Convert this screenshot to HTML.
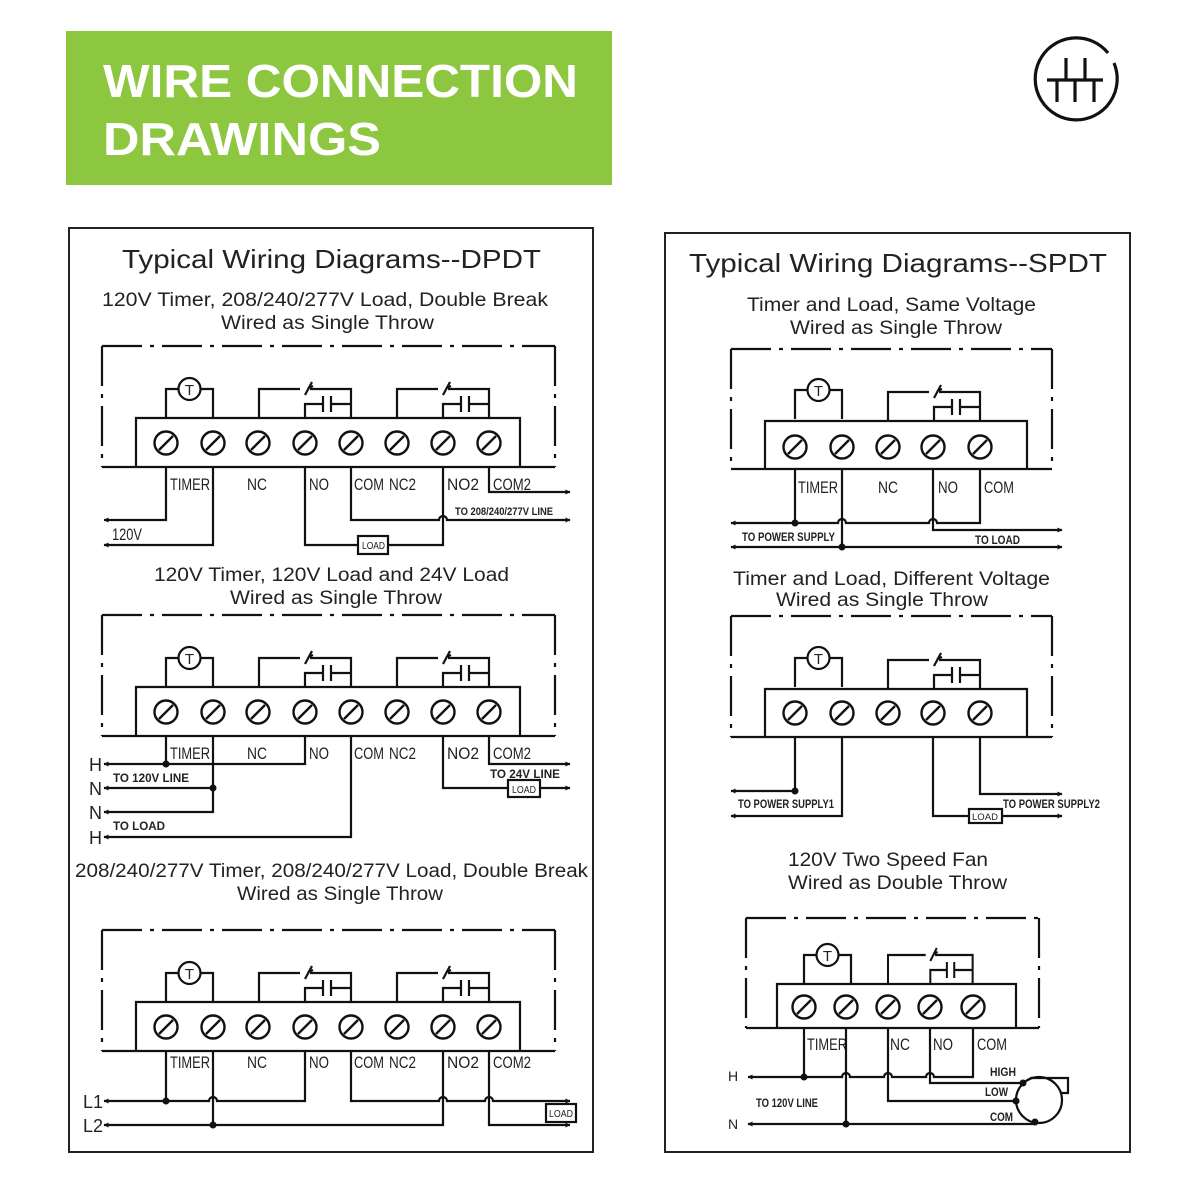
<!DOCTYPE html>
<html><head><meta charset="utf-8"><style>
html,body{margin:0;padding:0;background:#fff}
svg{display:block}
text{font-family:"Liberation Sans",Arial,sans-serif;fill:#222}
.t{font-size:26px}.s{font-size:19px}
.l{font-size:17px}
.b{font-size:11px;font-weight:bold}
.tt{font-size:15px;text-anchor:middle}
</style></head><body>
<svg width="1200" height="1200" viewBox="0 0 1200 1200" xmlns="http://www.w3.org/2000/svg">
<defs>
<marker id="ar" viewBox="0 0 10 10" refX="9" refY="5" markerWidth="6" markerHeight="5" orient="auto-start-reverse" markerUnits="userSpaceOnUse"><path d="M0 0 L10 5 L0 10 z" fill="#111"/></marker>
<g id="tm"><circle r="11.5" fill="#fff" stroke="#111" stroke-width="2.4"/><line x1="-7" y1="7" x2="7" y2="-7" stroke="#111" stroke-width="2.4"/></g>
<g id="cnt" fill="none" stroke="#111" stroke-width="2.2">
 <path d="M0 0 V-29 H41 M51 -29 H92 V0 M46 -23 L53 -36 M49 -30 L54 -32 M46 0 V-14 H64 M72 -14 H92 M64 -22 V-6 M72 -22 V-6"/>
</g>
<g id="tim" fill="none" stroke="#111" stroke-width="2.2">
 <path d="M0 -2 V-31 H12 M35 -31 H47 V-2"/>
 <circle cx="23.5" cy="-31" r="11" fill="#fff"/>
</g>
<g id="dp" fill="none" stroke="#111" stroke-width="2.2">
 <path d="M102 346 H555" stroke-dasharray="40 8 4 8"/>
 <path d="M102 346 V467 M555 346 V467" stroke-dasharray="40 8 4 8"/>
 <path d="M102 467 H555 M136 467 V418 H520 V467"/>
 <use href="#tim" x="166" y="420"/>
 <use href="#cnt" x="259" y="418"/>
 <use href="#cnt" x="397" y="418"/>
 <use href="#tm" x="166" y="443"/><use href="#tm" x="213" y="443"/><use href="#tm" x="258" y="443"/><use href="#tm" x="305" y="443"/><use href="#tm" x="351" y="443"/><use href="#tm" x="397" y="443"/><use href="#tm" x="443" y="443"/><use href="#tm" x="489" y="443"/>
</g>
</defs>

<rect x="66" y="31" width="546" height="154" fill="#8dc63f"/>
<text x="103" y="97" style="font-size:46px;font-weight:bold;fill:#fff" textLength="475" lengthAdjust="spacingAndGlyphs">WIRE CONNECTION</text>
<text x="103" y="155" style="font-size:46px;font-weight:bold;fill:#fff" textLength="278" lengthAdjust="spacingAndGlyphs">DRAWINGS</text>

<g fill="none" stroke="#111" stroke-width="3.2">
 <path d="M1108 53 A41 41 0 1 0 1114 63"/>
 <path d="M1047 80 H1103 M1066 58 V80 M1085 58 V80 M1057 80 V102 M1075 80 V102 M1094 80 V102"/>
</g>

<rect x="69" y="228" width="524" height="924" fill="none" stroke="#222" stroke-width="2"/>
<rect x="665" y="233" width="465" height="919" fill="none" stroke="#222" stroke-width="2"/>

<text class="t" x="122" y="268" textLength="419" lengthAdjust="spacingAndGlyphs">Typical Wiring Diagrams--DPDT</text>
<text class="s" x="102" y="306" textLength="446" lengthAdjust="spacingAndGlyphs">120V Timer, 208/240/277V Load, Double Break</text>
<text class="s" x="221" y="329" textLength="213" lengthAdjust="spacingAndGlyphs">Wired as Single Throw</text>
<text class="s" x="154" y="581" textLength="355" lengthAdjust="spacingAndGlyphs">120V Timer, 120V Load and 24V Load</text>
<text class="s" x="230" y="604" textLength="212" lengthAdjust="spacingAndGlyphs">Wired as Single Throw</text>
<text class="s" x="75" y="877" textLength="513" lengthAdjust="spacingAndGlyphs">208/240/277V Timer, 208/240/277V Load, Double Break</text>
<text class="s" x="237" y="900" textLength="206" lengthAdjust="spacingAndGlyphs">Wired as Single Throw</text>

<text class="t" x="689" y="272" textLength="418" lengthAdjust="spacingAndGlyphs">Typical Wiring Diagrams--SPDT</text>
<text class="s" x="747" y="311" textLength="289" lengthAdjust="spacingAndGlyphs">Timer and Load, Same Voltage</text>
<text class="s" x="790" y="334" textLength="212" lengthAdjust="spacingAndGlyphs">Wired as Single Throw</text>
<text class="s" x="733" y="585" textLength="317" lengthAdjust="spacingAndGlyphs">Timer and Load, Different Voltage</text>
<text class="s" x="776" y="606" textLength="212" lengthAdjust="spacingAndGlyphs">Wired as Single Throw</text>
<text class="s" x="788" y="866" textLength="200" lengthAdjust="spacingAndGlyphs">120V Two Speed Fan</text>
<text class="s" x="788" y="889" textLength="219" lengthAdjust="spacingAndGlyphs">Wired as Double Throw</text>

<use href="#dp"/>
<use href="#dp" y="269"/>
<use href="#dp" y="584"/>

<text class="tt" x="189.5" y="395">T</text>
<text class="tt" x="189.5" y="664">T</text>
<text class="tt" x="189.5" y="979">T</text>
<text class="tt" x="818.5" y="396">T</text>
<text class="tt" x="818.5" y="664">T</text>
<text class="tt" x="827.5" y="961">T</text>

<g>
<text class="l" x="170" y="490" textLength="40" lengthAdjust="spacingAndGlyphs">TIMER</text>
<text class="l" x="247" y="490" textLength="20" lengthAdjust="spacingAndGlyphs">NC</text>
<text class="l" x="309" y="490" textLength="20" lengthAdjust="spacingAndGlyphs">NO</text>
<text class="l" x="354" y="490" textLength="30" lengthAdjust="spacingAndGlyphs">COM</text>
<text class="l" x="389" y="490" textLength="27" lengthAdjust="spacingAndGlyphs">NC2</text>
<text class="l" x="447" y="490" textLength="32" lengthAdjust="spacingAndGlyphs">NO2</text>
<text class="l" x="493" y="490" textLength="38" lengthAdjust="spacingAndGlyphs">COM2</text>

<text class="l" x="170" y="759" textLength="40" lengthAdjust="spacingAndGlyphs">TIMER</text>
<text class="l" x="247" y="759" textLength="20" lengthAdjust="spacingAndGlyphs">NC</text>
<text class="l" x="309" y="759" textLength="20" lengthAdjust="spacingAndGlyphs">NO</text>
<text class="l" x="354" y="759" textLength="30" lengthAdjust="spacingAndGlyphs">COM</text>
<text class="l" x="389" y="759" textLength="27" lengthAdjust="spacingAndGlyphs">NC2</text>
<text class="l" x="447" y="759" textLength="32" lengthAdjust="spacingAndGlyphs">NO2</text>
<text class="l" x="493" y="759" textLength="38" lengthAdjust="spacingAndGlyphs">COM2</text>

<text class="l" x="170" y="1068" textLength="40" lengthAdjust="spacingAndGlyphs">TIMER</text>
<text class="l" x="247" y="1068" textLength="20" lengthAdjust="spacingAndGlyphs">NC</text>
<text class="l" x="309" y="1068" textLength="20" lengthAdjust="spacingAndGlyphs">NO</text>
<text class="l" x="354" y="1068" textLength="30" lengthAdjust="spacingAndGlyphs">COM</text>
<text class="l" x="389" y="1068" textLength="27" lengthAdjust="spacingAndGlyphs">NC2</text>
<text class="l" x="447" y="1068" textLength="32" lengthAdjust="spacingAndGlyphs">NO2</text>
<text class="l" x="493" y="1068" textLength="38" lengthAdjust="spacingAndGlyphs">COM2</text>
</g>

<g fill="none" stroke="#111" stroke-width="2.2">
 <path d="M166 467 V520 H104" marker-end="url(#ar)"/>
 <path d="M213 467 V545 H104" marker-end="url(#ar)"/>
 <path d="M305 467 V545 H358 M388 545 H443 V467"/>
 <rect x="358" y="536" width="30" height="18" fill="#fff"/>
 <path d="M351 467 V520 H439 A4 4 0 0 1 447 520 H570" marker-end="url(#ar)"/>
 <path d="M489 467 V492 H570" marker-end="url(#ar)"/>
 <path d="M305 736 V764 H104" marker-end="url(#ar)"/>
 <path d="M166 736 V764"/>
 <path d="M213 736 V812 H104" marker-end="url(#ar)"/>
 <path d="M213 788 H104" marker-end="url(#ar)"/>
 <path d="M351 736 V837 H104" marker-end="url(#ar)"/>
 <path d="M489 736 V764 H570" marker-end="url(#ar)"/>
 <path d="M443 736 V788 H508 M540 788 H570" marker-end="url(#ar)"/>
 <rect x="508" y="780" width="32" height="17" fill="#fff"/>
 <path d="M305 1051 V1101 H217 A4 4 0 0 0 209 1101 H104" marker-end="url(#ar)"/>
 <path d="M166 1051 V1101"/>
 <path d="M351 1051 V1101 H439 A4 4 0 0 1 447 1101 H485 A4 4 0 0 1 493 1101 H570" marker-end="url(#ar)"/>
 <path d="M443 1051 V1125 H104" marker-end="url(#ar)"/>
 <path d="M213 1051 V1125"/>
 <path d="M489 1051 V1125 H570" marker-end="url(#ar)"/>
 <rect x="546" y="1104" width="30" height="18" fill="#fff"/>
</g>
<g fill="#111">
 <circle cx="166" cy="764" r="3.5"/><circle cx="213" cy="788" r="3.5"/>
 <circle cx="166" cy="1101" r="3.5"/><circle cx="213" cy="1125" r="3.5"/>
</g>
<text class="l" x="112" y="540" textLength="30" lengthAdjust="spacingAndGlyphs">120V</text>
<text class="b" x="455" y="515" textLength="98" lengthAdjust="spacingAndGlyphs">TO 208/240/277V LINE</text>
<text x="362" y="549" style="font-size:10px" textLength="23" lengthAdjust="spacingAndGlyphs">LOAD</text>
<text x="512" y="793" style="font-size:10px" textLength="24" lengthAdjust="spacingAndGlyphs">LOAD</text>
<text x="549" y="1117" style="font-size:10px" textLength="24" lengthAdjust="spacingAndGlyphs">LOAD</text>
<text class="b" x="113" y="782" style="font-size:12px" textLength="76" lengthAdjust="spacingAndGlyphs">TO 120V LINE</text>
<text class="b" x="113" y="830" style="font-size:12px" textLength="52" lengthAdjust="spacingAndGlyphs">TO LOAD</text>
<text class="b" x="490" y="778" style="font-size:12px" textLength="70" lengthAdjust="spacingAndGlyphs">TO 24V LINE</text>
<text x="89" y="771" style="font-size:18px">H</text>
<text x="89" y="795" style="font-size:18px">N</text>
<text x="89" y="819" style="font-size:18px">N</text>
<text x="89" y="844" style="font-size:18px">H</text>
<text x="83" y="1108" style="font-size:18px">L1</text>
<text x="83" y="1132" style="font-size:18px">L2</text>

<g fill="none" stroke="#111" stroke-width="2.2">
 <path d="M731 349 H1052 M731 349 V469 M1052 349 V469" stroke-dasharray="40 8 4 8"/>
 <path d="M731 469 H1052 M765 469 V421 H1027 V469"/>
 <use href="#tim" x="795" y="421"/>
 <use href="#cnt" x="888" y="421"/>
 <path d="M731 616 H1052 M731 616 V737 M1052 616 V737" stroke-dasharray="40 8 4 8"/>
 <path d="M731 737 H1052 M765 737 V689 H1027 V737"/>
 <use href="#tim" x="795" y="689"/>
 <use href="#cnt" x="888" y="689"/>
 <path d="M746 918 H1039 M746 918 V1028 M1039 918 V1028" stroke-dasharray="40 8 4 8"/>
 <path d="M746 1028 H1039 M777 1028 V984 H1016 V1028"/>
 <use href="#tim" x="804" y="986"/>
 <use href="#cnt" x="888" y="984" transform="translate(888,0) scale(0.92,1) translate(-888,0)"/>
</g>
<text class="tt" x="818.5" y="396">T</text>
<text class="tt" x="818.5" y="664">T</text>
<text class="tt" x="827.5" y="961">T</text>
<use href="#tm" x="795" y="447"/><use href="#tm" x="842" y="447"/><use href="#tm" x="888" y="447"/><use href="#tm" x="933" y="447"/><use href="#tm" x="980" y="447"/>
<use href="#tm" x="795" y="713"/><use href="#tm" x="842" y="713"/><use href="#tm" x="888" y="713"/><use href="#tm" x="933" y="713"/><use href="#tm" x="980" y="713"/>
<use href="#tm" x="804" y="1007"/><use href="#tm" x="846" y="1007"/><use href="#tm" x="888" y="1007"/><use href="#tm" x="930" y="1007"/><use href="#tm" x="973" y="1007"/>

<text class="l" x="798" y="493" textLength="40" lengthAdjust="spacingAndGlyphs">TIMER</text>
<text class="l" x="878" y="493" textLength="20" lengthAdjust="spacingAndGlyphs">NC</text>
<text class="l" x="938" y="493" textLength="20" lengthAdjust="spacingAndGlyphs">NO</text>
<text class="l" x="984" y="493" textLength="30" lengthAdjust="spacingAndGlyphs">COM</text>
<text class="l" x="807" y="1050" textLength="40" lengthAdjust="spacingAndGlyphs">TIMER</text>
<text class="l" x="890" y="1050" textLength="20" lengthAdjust="spacingAndGlyphs">NC</text>
<text class="l" x="933" y="1050" textLength="20" lengthAdjust="spacingAndGlyphs">NO</text>
<text class="l" x="977" y="1050" textLength="30" lengthAdjust="spacingAndGlyphs">COM</text>

<g fill="none" stroke="#111" stroke-width="2.2">
 <path d="M731 523 H838 A4 4 0 0 1 846 523 H929 A4 4 0 0 1 937 523 H980 V469" marker-start="url(#ar)"/>
 <path d="M795 469 V523"/>
 <path d="M933 469 V530 H1062" marker-end="url(#ar)"/>
 <path d="M731 547 H1062" marker-start="url(#ar)" marker-end="url(#ar)"/>
 <path d="M842 469 V547"/>
 <path d="M795 737 V791 H731" marker-end="url(#ar)"/>
 <path d="M842 737 V816 H731" marker-end="url(#ar)"/>
 <path d="M933 737 V816 H969 M1002 816 H1062" marker-end="url(#ar)"/>
 <rect x="969" y="809" width="33" height="14" fill="#fff"/>
 <path d="M980 737 V794 H1062" marker-end="url(#ar)"/>
 <path d="M748 1077 H842 A4 4 0 0 1 850 1077 H884 A4 4 0 0 1 892 1077 H926 A4 4 0 0 1 934 1077 H973 V1028" marker-start="url(#ar)"/>
 <path d="M804 1028 V1077"/>
 <path d="M930 1028 V1083 H1023"/>
 <path d="M888 1028 V1101 H1016"/>
 <path d="M846 1028 V1124"/>
 <path d="M748 1124 H1035" marker-start="url(#ar)"/>
 <circle cx="1039" cy="1100" r="23"/>
 <path d="M1030 1078 H1068 V1093 H1061"/>
</g>
<g fill="#111">
 <circle cx="795" cy="523" r="3.5"/><circle cx="842" cy="547" r="3.5"/>
 <circle cx="795" cy="791" r="3.5"/>
 <circle cx="804" cy="1077" r="3.5"/><circle cx="846" cy="1124" r="3.5"/>
 <circle cx="1023" cy="1083" r="3.5"/><circle cx="1016" cy="1101" r="3.5"/><circle cx="1035" cy="1122" r="3.5"/>
</g>
<text class="b" x="742" y="541" style="font-size:12px" textLength="93" lengthAdjust="spacingAndGlyphs">TO POWER SUPPLY</text>
<text class="b" x="975" y="544" style="font-size:12px" textLength="45" lengthAdjust="spacingAndGlyphs">TO LOAD</text>
<text class="b" x="738" y="808" style="font-size:12px" textLength="96" lengthAdjust="spacingAndGlyphs">TO POWER SUPPLY1</text>
<text class="b" x="1003" y="808" style="font-size:12px" textLength="97" lengthAdjust="spacingAndGlyphs">TO POWER SUPPLY2</text>
<text x="972" y="820" style="font-size:9px" textLength="26" lengthAdjust="spacingAndGlyphs">LOAD</text>
<text class="b" x="756" y="1107" style="font-size:12px" textLength="62" lengthAdjust="spacingAndGlyphs">TO 120V LINE</text>
<text class="b" x="990" y="1076" style="font-size:12px" textLength="26" lengthAdjust="spacingAndGlyphs">HIGH</text>
<text class="b" x="985" y="1096" style="font-size:12px" textLength="23" lengthAdjust="spacingAndGlyphs">LOW</text>
<text class="b" x="990" y="1121" style="font-size:12px" textLength="23" lengthAdjust="spacingAndGlyphs">COM</text>
<text x="728" y="1081" style="font-size:14px">H</text>
<text x="728" y="1129" style="font-size:14px">N</text>
</svg>
</body></html>
